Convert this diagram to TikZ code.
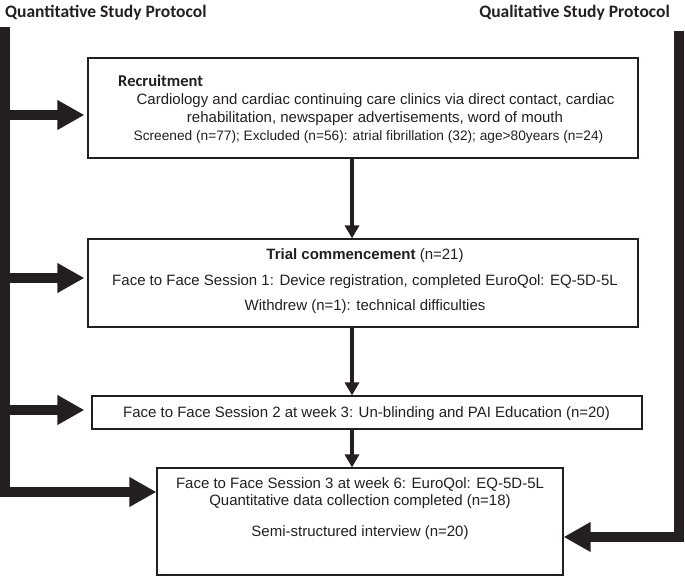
\documentclass[tikz,border=0pt]{standalone}
\usepackage{fontspec}
\setmainfont{Liberation Sans}
\newfontfamily\calfont{Carlito}
\usetikzlibrary{arrows.meta,calc}
\definecolor{ink}{HTML}{231F20}
\begin{document}
\begin{tikzpicture}[x=1pt,y=-1pt,
  box/.style={draw=ink, line width=1.2pt, rectangle, inner sep=0pt},
  bar/.style={ink, line width=10pt, -{Triangle[length=27pt,width=28pt]}},
  varrow/.style={ink, line width=4.5pt, -{Triangle[length=13pt,width=14pt]}},
  txt/.style={anchor=base, inner sep=0pt, font=\fontsize{15}{18}\selectfont, text=ink},
  ttl/.style={inner sep=0pt, font=\calfont\bfseries\fontsize{17.5}{20}\selectfont, text=ink}
]
\useasboundingbox (0,0) rectangle (685,577);

% titles
\node[ttl, anchor=base west] (qt) at (5,18) {Quantitative Study Protocol};
\node[ttl, anchor=base east] (ql) at (670,18) {Qualitative Study Protocol};

% Recruitment
\node[box, minimum width=550, minimum height=100] (rec) at (363,108) {};
\node[anchor=base west, inner sep=0pt, text=ink, font=\calfont\bfseries\fontsize{16.5}{18}\selectfont] (rech) at (118,87) {Recruitment};
\node[txt] (rec1) at (375.5,105) {Cardiology and cardiac continuing care clinics via direct contact, cardiac};
\node[txt] (rec2) at (375,123) {rehabilitation, newspaper advertisements, word of mouth};
\node[txt, font=\fontsize{13.7}{15}\selectfont] (rec3) at (368.5,141) {Screened (n=77); Excluded (n=56): atrial fibrillation (32); age>80years (n=24)};

% Trial commencement
\node[box, minimum width=550, minimum height=88] (trial) at (363,283) {};
\node[txt] (tr1) at (365,260) {\textbf{Trial commencement} (n=21)};
\node[txt] (tr2) at (365,285) {Face to Face Session 1: Device registration, completed EuroQol: EQ-5D-5L};
\node[txt] (tr3) at (365,310) {Withdrew (n=1): technical difficulties};

% Session 2
\node[box, minimum width=550, minimum height=33] (s2) at (367,412.5) {};
\node[txt] (s2t) at (366.5,417) {Face to Face Session 2 at week 3: Un-blinding and PAI Education (n=20)};

% Session 3
\node[box, minimum width=406, minimum height=107] (s3) at (360,521.5) {};
\node[txt] (s3a) at (360,488) {Face to Face Session 3 at week 6: EuroQol: EQ-5D-5L};
\node[txt] (s3b) at (360,505) {Quantitative data collection completed (n=18)};
\node[txt] (s3c) at (360,536) {Semi-structured interview (n=20)};

% helper coordinates
\coordinate (ltop) at (5,27);
\coordinate (rtop) at (679,31);
\coordinate (y1) at (0,115);
\coordinate (y2) at (0,278);
\coordinate (y3) at (0,410);
\coordinate (y4) at (0,492);
\coordinate (y5) at (0,537);
\coordinate (vx) at (352,0);

% left protocol bar
\draw[bar] (ltop) |- (s3.west |- y4);
\draw[bar] (ltop |- y1) -- ($(rec.west |- y1)+(-3,0)$);
\draw[bar] (ltop |- y2) -- ($(trial.west |- y2)+(-3,0)$);
\draw[bar] (ltop |- y3) -- ($(s2.west |- y3)+(-7,0)$);

% right protocol bar
\draw[bar] (rtop) |- (s3.east |- y5);

% vertical flow
\draw[varrow] (rec.south -| vx) -- (trial.north -| vx);
\draw[varrow] (trial.south -| vx) -- (s2.north -| vx);
\draw[varrow] (s2.south -| vx) -- (s3.north -| vx);
\end{tikzpicture}
\end{document}
